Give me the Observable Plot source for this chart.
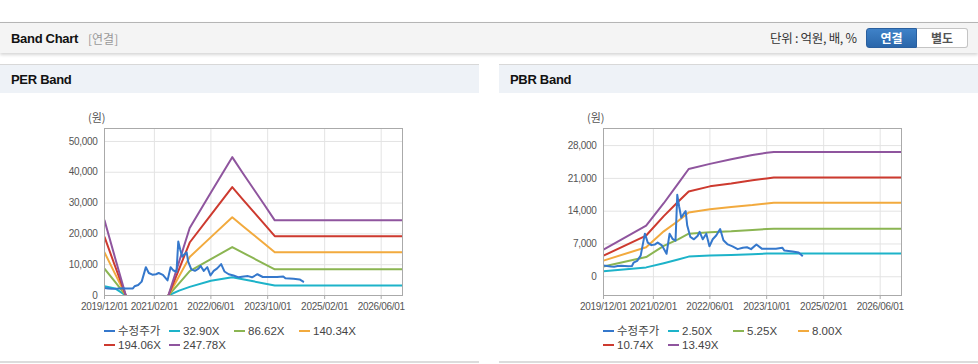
<!DOCTYPE html>
<html><head><meta charset="utf-8">
<script src="https://cdn.jsdelivr.net/npm/d3@7"></script>
<script src="https://cdn.jsdelivr.net/npm/@observablehq/plot@0.6"></script>
<style>
body{margin:0;width:978px;height:364px;position:relative;background:#fff;font-family:Arial,"Liberation Sans","Noto Sans CJK KR",sans-serif;overflow:hidden}
#topbar{position:absolute;left:0;top:22px;width:978px;height:31px;background:#f4f4f4;border-top:1px solid #b5b5b5;box-shadow:0 2px 3px rgba(0,0,0,0.16);box-sizing:border-box}
#topbar .title{position:absolute;left:11px;top:8px;font-size:13px;font-weight:bold;color:#111;letter-spacing:-0.3px}
#topbar .sub{position:absolute;left:88px;top:9px;font-size:12px;color:#999;font-family:"Noto Sans CJK KR",sans-serif;line-height:13px}
#topbar .unit{position:absolute;left:770px;top:7px;font-size:12.5px;color:#333;font-family:"Noto Sans CJK KR",sans-serif;line-height:16px;letter-spacing:-0.3px}
.btn{position:absolute;top:5px;height:20px;width:51px;box-sizing:border-box;font-size:12px;font-weight:bold;text-align:center;line-height:18px;font-family:"Noto Sans CJK KR",sans-serif}
.btn.on{left:866px;background:linear-gradient(#3f82c8,#2a66aa);color:#fff;border:1px solid #2a5f9e;border-radius:3px 0 0 3px}
.btn.off{left:917px;background:#fff;color:#555;border:1px solid #c4c4c4;border-left:none;border-radius:0 3px 3px 0}
.panel{position:absolute;top:64px;width:479px;height:299px;border-top:1px solid #d8d8d8;border-bottom:2px solid #dcdcdc;box-sizing:border-box}
.panel .head{height:28px;background:#eef2f7;font-size:13px;font-weight:bold;color:#111;padding-left:11px;line-height:30px;letter-spacing:-0.3px}
.panel .chart{position:absolute;left:0;top:28px}
.panel .ylab{position:absolute;left:88px;top:45px;font-size:11px;color:#555;font-family:"Noto Sans CJK KR",sans-serif;line-height:14px}
.legend .item{position:absolute;height:14px;line-height:14px;font-size:11.5px;color:#444;white-space:nowrap;font-family:Arial,"Noto Sans CJK KR",sans-serif}
.legend .sw{display:inline-block;width:11px;height:2.5px;vertical-align:middle;margin-right:3px;position:relative;top:-1px}
</style>
</head><body>
<div id="topbar">
  <div class="title">Band Chart</div><div class="sub">[연결]</div>
  <div class="unit">단위 : 억원, 배, %</div>
  <div class="btn on">연결</div><div class="btn off">별도</div>
</div>
<div class="panel" id="per" style="left:0"><div class="head">PER Band</div><div class="ylab">(원)</div></div>
<div class="panel" id="pbr" style="left:499px"><div class="head">PBR Band</div><div class="ylab">(원)</div></div>
<script>
// ---- shared x ticks ----
const xTickLabels = ["2019/12/01","2021/02/01","2022/06/01","2023/10/01","2025/02/01","2026/06/01"];
const xDomain = ["2019-12-01","2026-12-01"];

// ---- price (수정주가) ----
const priceDates = ["2019-12-01","2020-01-01","2020-02-01","2020-03-01","2020-04-01","2020-05-01","2020-06-01","2020-07-01","2020-08-01","2020-08-15","2020-09-15","2020-10-15","2020-11-20","2020-12-15","2021-01-15","2021-02-15","2021-03-10","2021-04-15","2021-05-05","2021-05-25","2021-06-20","2021-07-15","2021-08-10","2021-08-25","2021-09-10","2021-09-28","2021-10-15","2021-11-05","2021-11-18","2021-12-15","2022-01-15","2022-02-15","2022-03-05","2022-04-01","2022-05-01","2022-05-28","2022-06-25","2022-07-25","2022-08-28","2022-09-25","2022-11-01","2022-12-12","2023-01-25","2023-03-10","2023-04-15","2023-05-20","2023-07-05","2023-08-20","2023-10-15","2023-12-20","2024-02-12","2024-03-01","2024-05-10","2024-07-01","2024-08-01"];
const priceValues = [2400,2300,2200,2150,2300,2350,2300,2250,2300,3000,3400,4500,9200,7300,6750,6900,7300,6700,5800,4900,9200,8100,7700,17500,15000,12600,13300,14000,11000,8500,8000,8700,9600,8000,9200,6500,8000,8800,10200,7800,6900,6500,5900,6200,6300,5900,6900,6000,6000,6000,6200,5600,5400,5200,4500];

// ---- PER band ----
const perNames = ["32.90X","86.62X","140.34X","194.06X","247.78X"];
const perDates = ["2019-12-01","2020-03-01","2020-06-01","2021-01-01","2021-06-01","2021-09-01","2021-12-01","2022-06-01","2022-12-01","2023-03-01","2023-06-01","2023-09-01","2023-12-01","2026-12-01"];
const per3290  = [3000,2300,0,null,0,1600,2800,4800,5950,5300,4600,3900,3250,3250];
const per8662  = [8700,4400,0,null,0,3950,7900,11800,15700,13900,12100,10300,8500,8500];
const per14034 = [14000,7000,0,null,0,6250,12500,18950,25400,22560,19725,16890,14050,14050];
const per19406 = [19000,9500,0,null,0,8600,17200,26200,35200,31210,27225,23240,19250,19250];
const per24778 = [24400,12200,0,null,0,10950,21900,33400,44900,39775,34650,29525,24400,24400];
const perYTicks = [0,10000,20000,30000,40000,50000];
const perYDomain = [0,54200];

// ---- PBR band ----
const pbrNames = ["2.50X","5.25X","8.00X","10.74X","13.49X"];
const pbrDates = ["2019-12-01","2020-12-01","2021-05-01","2021-09-01","2021-12-01","2022-06-01","2022-12-01","2023-06-01","2023-10-01","2023-12-01","2026-12-01"];
const pbr250  = [1200,2000,2900,3700,4300,4550,4650,4800,4950,4950,4950];
const pbr525  = [2200,4200,6600,8000,9200,9500,9700,10000,10200,10250,10250];
const pbr800  = [3450,6300,9700,11900,13700,14400,14900,15300,15650,15800,15800];
const pbr1074 = [4500,8800,12950,16000,18200,19300,19900,20600,21000,21200,21200];
const pbr1349 = [5800,10900,15700,19900,23000,24100,25100,26000,26450,26650,26650];
const pbrYTicks = [0,7000,14000,21000,28000];
const pbrYDomain = [-4000,31650];

const priceName = "수정주가";
const bandColors = ["#1db3c9","#8bb552","#f2aa3e","#cd3a2f","#8f559e"];
const priceColor = "#3578cc";

const parseTick = d3.utcParse("%Y/%m/%d");
const fmtTick = d3.utcFormat("%Y/%m/%d");

function rows(dates, values){
  return dates.map((d,i)=>({date:new Date(d+"T00:00:00Z"), value: values[i]==null ? NaN : values[i]}));
}

function draw(id, names, dates, series, yTicks, yDomain){
  const xTicks = xTickLabels.map(parseTick);
  const marks = [
    Plot.gridX(xTicks, {stroke:"#e3e3e3", strokeOpacity:1}),
    Plot.gridY(yTicks, {stroke:"#e3e3e3", strokeOpacity:1}),
    Plot.axisX(xTicks, {tickSize:4, tickPadding:3, tickFormat:fmtTick, stroke:"#aaa", fill:"#555", label:null}),
    Plot.axisY(yTicks, {tickSize:0, tickPadding:7, tickFormat:d3.format(","), fill:"#555", label:null})
  ];
  series.forEach((vals,i)=>{
    marks.push(Plot.line(rows(dates, vals), {x:"date", y:"value", stroke:bandColors[i], strokeWidth:2, clip:true}));
  });
  marks.push(Plot.line(rows(priceDates, priceValues), {x:"date", y:"value", stroke:priceColor, strokeWidth:2, clip:true}));
  marks.push(Plot.frame({stroke:"#aaa"}));
  const svg = Plot.plot({
    width:479, height:225,
    marginLeft:104, marginRight:77, marginTop:35, marginBottom:23,
    style:"font-family:Arial,'Liberation Sans',sans-serif;font-size:10px;letter-spacing:-0.3px;color:#555;background:none;overflow:visible",
    x:{type:"utc", domain:xDomain.map(d=>new Date(d+"T00:00:00Z"))},
    y:{domain:yDomain},
    marks
  });
  const wrap = document.createElement("div");
  wrap.className = "chart";
  wrap.appendChild(svg);
  const panel = document.getElementById(id);
  panel.appendChild(wrap);
  // legend
  const leg = document.createElement("div");
  leg.className = "legend";
  const items = [[priceName, priceColor]].concat(names.map((n,i)=>[n, bandColors[i]]));
  items.forEach(([n,c],i)=>{
    const it = document.createElement("div");
    it.className = "item";
    const row = i < 4 ? 0 : 1, col = i < 4 ? i : i-4;
    it.style.left = (104 + col*65) + "px";
    it.style.top = (259 + row*14) + "px";
    it.innerHTML = `<span class="sw" style="background:${c}"></span>${n}`;
    leg.appendChild(it);
  });
  panel.appendChild(leg);
}

draw("per", perNames, perDates, [per3290, per8662, per14034, per19406, per24778], perYTicks, perYDomain);
draw("pbr", pbrNames, pbrDates, [pbr250, pbr525, pbr800, pbr1074, pbr1349], pbrYTicks, pbrYDomain);
</script>
</body></html>
